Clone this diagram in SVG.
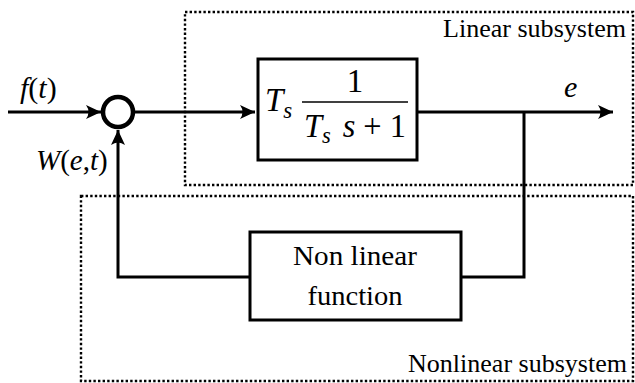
<svg xmlns="http://www.w3.org/2000/svg" width="635" height="383" viewBox="0 0 635 383">
<style>
.dot{fill:none;stroke:#000;stroke-width:2.4;stroke-dasharray:2.4 2.2}
.box{fill:#fff;stroke:#000;stroke-width:3}
.wire{fill:none;stroke:#000;stroke-width:3}
text{font-family:'Liberation Serif','DejaVu Serif',serif;fill:#000}
.math{font-style:italic}
.up{font-style:normal}
</style>
<defs>
<marker id="arr" markerUnits="userSpaceOnUse" markerWidth="20" markerHeight="20" viewBox="-16 -10 20 20" refX="0" refY="0" orient="auto">
<path d="M0,0 L-15,-7 Q-10,0 -15,7 Z" fill="#000"/>
</marker>
</defs>
<g id="linear-subsystem">
<rect class="dot" x="185" y="12" width="448" height="173"/>
<text x="626" y="37" font-size="25" text-anchor="end" textLength="183" lengthAdjust="spacingAndGlyphs">Linear subsystem</text>
</g>
<g id="nonlinear-subsystem">
<rect class="dot" x="81" y="196" width="552" height="185"/>
<text x="627" y="372" font-size="25" text-anchor="end" textLength="219" lengthAdjust="spacingAndGlyphs">Nonlinear subsystem</text>
</g>
<g id="connectors">
<line class="wire" x1="8" y1="112" x2="101" y2="112" marker-end="url(#arr)"/>
<line class="wire" x1="135" y1="112" x2="255" y2="112" marker-end="url(#arr)"/>
<line class="wire" x1="417" y1="112" x2="613" y2="112" marker-end="url(#arr)"/>
<polyline class="wire" points="524,112 524,277 461,277"/>
<polyline class="wire" points="250,277 118,277 118,130" marker-end="url(#arr)"/>
</g>
<g id="sum">
<circle cx="118" cy="112" r="15" fill="#fff" stroke="#000" stroke-width="4.5"/>
</g>
<g id="labels">
<text class="math" x="20" y="98" font-size="30">f<tspan class="up">(</tspan>t<tspan class="up">)</tspan></text>
<text class="math" x="36" y="170" font-size="29">W<tspan class="up">(</tspan>e<tspan class="up">,</tspan>t<tspan class="up">)</tspan></text>
<text class="math" x="564" y="97" font-size="30">e</text>
</g>
<g id="plant">
<rect class="box" x="258" y="59" width="159" height="101"/>
<text class="math" x="265" y="111" font-size="33">T<tspan font-size="23" dy="7">s</tspan></text>
<text x="355" y="92" font-size="33" text-anchor="middle">1</text>
<line x1="302" y1="102" x2="408" y2="102" stroke="#000" stroke-width="1.5"/>
<text class="math" x="304" y="137" font-size="33" textLength="102" lengthAdjust="spacingAndGlyphs">T<tspan font-size="23" dy="6">s</tspan><tspan dy="-6" dx="12">s</tspan><tspan class="up"> + 1</tspan></text>
</g>
<g id="nonlinear-function">
<rect class="box" x="250" y="232" width="211" height="88"/>
<text x="355" y="265" font-size="28" text-anchor="middle" textLength="124" lengthAdjust="spacingAndGlyphs">Non linear</text>
<text x="355" y="305" font-size="28" text-anchor="middle" textLength="95" lengthAdjust="spacingAndGlyphs">function</text>
</g>
</svg>
